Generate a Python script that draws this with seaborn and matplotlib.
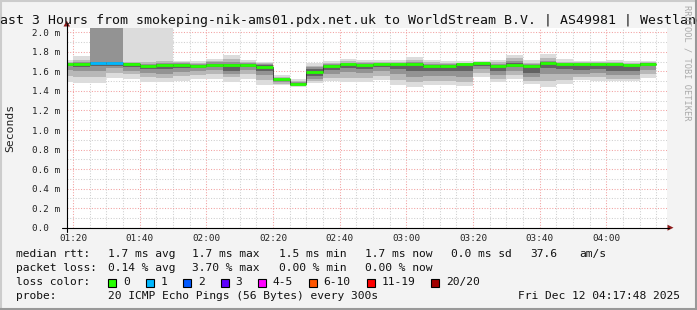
import numpy as np
import pandas as pd
import matplotlib
matplotlib.use("Agg")
import matplotlib.pyplot as plt
import seaborn as sns
from matplotlib.lines import Line2D
from matplotlib.patches import Rectangle, Polygon

# ---------------- data ----------------
interval_start = ["01:15", "01:20", "01:25", "01:30", "01:35", "01:40", "01:45", "01:50", "01:55",
                  "02:00", "02:05", "02:10", "02:15", "02:20", "02:25", "02:30", "02:35", "02:40",
                  "02:45", "02:50", "02:55", "03:00", "03:05", "03:10", "03:15", "03:20", "03:25",
                  "03:30", "03:35", "03:40", "03:45", "03:50", "03:55", "04:00", "04:05", "04:10"]
step_minutes = 5

median_ms = [1.676, 1.676, 1.686, 1.686, 1.680, 1.658, 1.668, 1.668, 1.658, 1.668,
             1.668, 1.668, 1.640, 1.520, 1.470, 1.597, 1.660, 1.680, 1.665, 1.675,
             1.675, 1.678, 1.658, 1.655, 1.672, 1.683, 1.658, 1.668, 1.660, 1.686,
             1.675, 1.678, 1.678, 1.672, 1.665, 1.678]
loss_pings = [0, 0, 1, 1, 0, 0, 0, 0, 0, 0, 0, 0, 0, 0, 0, 0, 0, 0,
              0, 0, 0, 0, 0, 0, 0, 0, 0, 0, 0, 0, 0, 0, 0, 0, 0, 0]

ping_max = [1.72, 1.76, 2.60, 2.60, 2.50, 2.50, 2.50, 1.71, 1.71, 1.73, 1.77, 1.72, 1.70, 1.56, 1.52, 1.69, 1.71, 1.73,
            1.72, 1.72, 1.72, 1.75, 1.72, 1.71, 1.71, 1.71, 1.72, 1.77, 1.72, 1.78, 1.73, 1.71, 1.71, 1.72, 1.71, 1.71]
ping_hi2 = [1.70, 1.72, 2.40, 2.40, 1.70, 1.70, 1.71, 1.70, 1.69, 1.71, 1.73, 1.70, 1.69, 1.545, 1.50, 1.66, 1.69, 1.71,
            1.70, 1.70, 1.70, 1.72, 1.70, 1.69, 1.69, 1.70, 1.70, 1.74, 1.69, 1.74, 1.70, 1.70, 1.70, 1.70, 1.69, 1.70]
ping_hi3 = [1.69, 1.70, 2.20, 2.20, 1.69, 1.68, 1.685, 1.69, 1.68, 1.695, 1.70, 1.69, 1.68, 1.535, 1.49, 1.64, 1.68, 1.69,
            1.685, 1.69, 1.69, 1.70, 1.68, 1.675, 1.685, 1.695, 1.68, 1.71, 1.675, 1.71, 1.69, 1.69, 1.69, 1.69, 1.68, 1.69]
ping_hi4 = [1.68, 1.685, 1.70, 1.70, 1.685, 1.67, 1.675, 1.68, 1.665, 1.68, 1.68, 1.68, 1.665, 1.525, 1.48, 1.62, 1.67, 1.68,
            1.67, 1.68, 1.68, 1.685, 1.665, 1.665, 1.675, 1.685, 1.665, 1.685, 1.665, 1.695, 1.68, 1.68, 1.68, 1.675, 1.67, 1.685]
ping_lo4 = [1.65, 1.64, 1.65, 1.66, 1.645, 1.62, 1.62, 1.63, 1.63, 1.64, 1.60, 1.64, 1.60, 1.50, 1.46, 1.55, 1.61, 1.63,
            1.62, 1.64, 1.62, 1.60, 1.60, 1.60, 1.60, 1.65, 1.60, 1.64, 1.58, 1.63, 1.62, 1.61, 1.62, 1.60, 1.60, 1.65]
ping_lo3 = [1.61, 1.60, 1.60, 1.63, 1.60, 1.58, 1.57, 1.59, 1.60, 1.61, 1.57, 1.61, 1.56, 1.49, 1.455, 1.52, 1.57, 1.59,
            1.58, 1.60, 1.57, 1.54, 1.55, 1.55, 1.54, 1.62, 1.56, 1.60, 1.54, 1.57, 1.57, 1.57, 1.58, 1.56, 1.56, 1.61]
ping_lo2 = [1.55, 1.54, 1.54, 1.58, 1.57, 1.54, 1.53, 1.55, 1.56, 1.57, 1.54, 1.57, 1.51, 1.475, 1.45, 1.50, 1.53, 1.53,
            1.53, 1.55, 1.51, 1.49, 1.50, 1.50, 1.49, 1.58, 1.52, 1.56, 1.50, 1.50, 1.51, 1.54, 1.54, 1.52, 1.52, 1.57]
ping_min = [1.49, 1.48, 1.48, 1.53, 1.52, 1.49, 1.49, 1.50, 1.52, 1.52, 1.49, 1.52, 1.46, 1.46, 1.44, 1.48, 1.50, 1.49,
            1.49, 1.51, 1.46, 1.44, 1.46, 1.46, 1.45, 1.54, 1.49, 1.52, 1.47, 1.44, 1.47, 1.51, 1.50, 1.50, 1.50, 1.53]

x_tick_labels = ["01:20", "01:40", "02:00", "02:20", "02:40", "03:00", "03:20", "03:40", "04:00"]
y_tick_values = [0.0, 0.2, 0.4, 0.6, 0.8, 1.0, 1.2, 1.4, 1.6, 1.8, 2.0]
y_tick_labels = ["0.0  ", "0.2 m", "0.4 m", "0.6 m", "0.8 m", "1.0 m", "1.2 m", "1.4 m", "1.6 m", "1.8 m", "2.0 m"]

loss_bins = ["0", "1", "2", "3", "4-5", "6-10", "11-19", "20/20"]
loss_colors = ["#26ff00", "#00b8ff", "#0059ff", "#5e00ff", "#ff00ff", "#ff5500", "#ff0000", "#a10000"]
loss_bin_upper = [0, 1, 2, 3, 5, 10, 19, 20]

title = "Last 3 Hours from smokeping-nik-ams01.pdx.net.uk to WorldStream B.V. | AS49981 | Westland"
rtt_stats = ["1.7 ms avg", "1.7 ms max", "1.5 ms min", "1.7 ms now", "0.0 ms sd", "37.6", "am/s"]
loss_stats = ["0.14 % avg", "3.70 % max", "0.00 % min", "0.00 % now"]
probe_text = "20 ICMP Echo Pings (56 Bytes) every 300s"
date_text = "Fri Dec 12 04:17:48 2025"

# ---------------- style ----------------
sns.set_theme(style="white")
plt.rcParams["font.family"] = ["DejaVu Sans Mono", "DejaVu Sans"]

W, H = 697, 310
BG = "#f3f3f3"
fig = plt.figure(figsize=(W / 100, H / 100), dpi=100, facecolor=BG)


def fx(x):
    return x / W


def fy(y):
    return 1 - y / H


ax_left, ax_right, ax_top, ax_bot = 66.7, 666.7, 28.0, 227.7
ax = fig.add_axes([fx(ax_left), fy(ax_bot), (ax_right - ax_left) / W, (ax_bot - ax_top) / H])
ax.set_facecolor("white")


def to_min(s):
    h, m = s.split(":")
    return int(h) * 60 + int(m)


starts = np.array([to_min(s) for s in interval_start], dtype=float)
edges = np.append(starts, starts[-1] + step_minutes)


def ext(a):
    a = np.asarray(a, dtype=float)
    return np.append(a, a[-1])


# smoke bands (outer light -> inner dark)
bands = [(ping_min, ping_max, "#dcdcdc"), (ping_lo2, ping_hi2, "#b8b8b8"),
         (ping_lo3, ping_hi3, "#939393"), (ping_lo4, ping_hi4, "#626262")]
for lo, hi, col in bands:
    ax.fill_between(edges, ext(lo), ext(hi), step="post", color=col, lw=0, zorder=2)

# median: thin dark step connector + loss-coloured segments
df = pd.DataFrame({"t": edges, "median": ext(median_ms)})
sns.lineplot(data=df, x="t", y="median", drawstyle="steps-post", color="#303030", lw=0.6, ax=ax, zorder=3)


def loss_color(n):
    for ub, c in zip(loss_bin_upper, loss_colors):
        if n <= ub:
            return c
    return loss_colors[-1]


seg_cols = [loss_color(n) for n in loss_pings]
ax.hlines(median_ms, starts, starts + step_minutes, colors=seg_cols, lw=2.0, zorder=4)

# ticks / grid (limits set afterwards so ticks do not widen the view)
x0 = to_min("01:18") + 0.1
x1 = x0 + 180
y_top = (ax_bot - ax_top) / 97.7

xmaj = [to_min(s) for s in x_tick_labels]
xminor = [m for m in np.arange(80, x1, 5) if m not in xmaj]
ax.set_xticks(xmaj)
ax.set_xticklabels(x_tick_labels)
ax.set_xticks(xminor, minor=True)
ax.set_yticks(y_tick_values)
ax.set_yticklabels(y_tick_labels)
ax.set_yticks([v + 0.1 for v in y_tick_values[:-1]], minor=True)
ax.set_xlim(x0, x1)
ax.set_ylim(0, y_top)

ax.grid(which="minor", color="#cfcfcf", lw=0.75, linestyle=(0, (1, 1.6)))
ax.grid(which="major", color="#f2a0a0", lw=0.75, linestyle=(0, (1, 1.6)))
ax.set_axisbelow(True)

ax.tick_params(axis="both", which="both", length=0, labelsize=6.7, colors="#222222")
ax.tick_params(axis="y", pad=5.0)
ax.tick_params(axis="x", pad=4.5)
ax.set_xlabel("")
ax.set_ylabel("")
for s in ax.spines.values():
    s.set_visible(False)

# axis lines and arrows (figure pixel coordinates)
fig.add_artist(Line2D([fx(66.7), fx(66.7)], [fy(232), fy(24)], color="black", lw=0.8, transform=fig.transFigure))
fig.add_artist(Line2D([fx(62), fx(669)], [fy(227.7), fy(227.7)], color="black", lw=0.8, transform=fig.transFigure))
fig.add_artist(Polygon([[fx(63.5), fy(26.5)], [fx(70), fy(26.5)], [fx(66.7), fy(20.5)]], closed=True,
                       facecolor="#8b1a1a", edgecolor="none", transform=fig.transFigure))
fig.add_artist(Polygon([[fx(667.5), fy(224.7)], [fx(667.5), fy(230.7)], [fx(673.5), fy(227.7)]], closed=True,
                       facecolor="#8b1a1a", edgecolor="none", transform=fig.transFigure))

# title and labels
fig.text(fx(W / 2), fy(24), title, ha="center", va="baseline", fontsize=9.5, color="#111111")
fig.text(fx(10.5), fy(127.5), "Seconds", rotation=90, ha="center", va="center", fontsize=8.2, color="#222222")
fig.text(fx(687), fy(5), "RRDTOOL / TOBI OETIKER", rotation=-90, ha="center", va="top", fontsize=6.2,
         color="#aaaaaa")

# legend block
LF = 8.1
row_y = [254, 268, 282, 296]
fig.text(fx(16.4), fy(row_y[0]), "median rtt:", ha="left", va="center", fontsize=LF, color="#111111")
for x, s in zip([107.6, 192, 279, 365, 451, 530, 579], rtt_stats):
    fig.text(fx(x), fy(row_y[0]), s, ha="left", va="center", fontsize=LF, color="#111111")
fig.text(fx(16.4), fy(row_y[1]), "packet loss:", ha="left", va="center", fontsize=LF, color="#111111")
for x, s in zip([107.6, 192, 279, 365], loss_stats):
    fig.text(fx(x), fy(row_y[1]), s, ha="left", va="center", fontsize=LF, color="#111111")
fig.text(fx(16.4), fy(row_y[2]), "loss color:", ha="left", va="center", fontsize=LF, color="#111111")
bx = 108.4
for lab, col in zip(loss_bins, loss_colors):
    fig.add_artist(Rectangle((fx(bx), fy(row_y[2] + 4.5)), 8 / W, 8 / H, facecolor=col, edgecolor="black",
                             lw=0.8, transform=fig.transFigure))
    fig.text(fx(bx + 14.6), fy(row_y[2]), lab, ha="left", va="center", fontsize=LF, color="#111111")
    bx += 30.6 + 6.8 * len(lab)
fig.text(fx(16.4), fy(row_y[3]), "probe:", ha="left", va="center", fontsize=LF, color="#111111")
fig.text(fx(107.6), fy(row_y[3]), probe_text, ha="left", va="center", fontsize=LF, color="#111111")
fig.text(fx(680), fy(row_y[3]), date_text, ha="right", va="center", fontsize=LF, color="#111111")

# frame around the image
fig.add_artist(Line2D([fx(0.5), fx(0.5)], [fy(0), fy(H)], color="#cccccc", lw=1.5, transform=fig.transFigure))
fig.add_artist(Line2D([fx(0), fx(W)], [fy(0.5), fy(0.5)], color="#cccccc", lw=1.5, transform=fig.transFigure))
fig.add_artist(Line2D([fx(W - 1), fx(W - 1)], [fy(0), fy(H)], color="#999999", lw=1.5, transform=fig.transFigure))
fig.add_artist(Line2D([fx(0), fx(W)], [fy(H - 1), fy(H - 1)], color="#999999", lw=1.5, transform=fig.transFigure))

fig.savefig("out.png", dpi=100, facecolor=BG)
